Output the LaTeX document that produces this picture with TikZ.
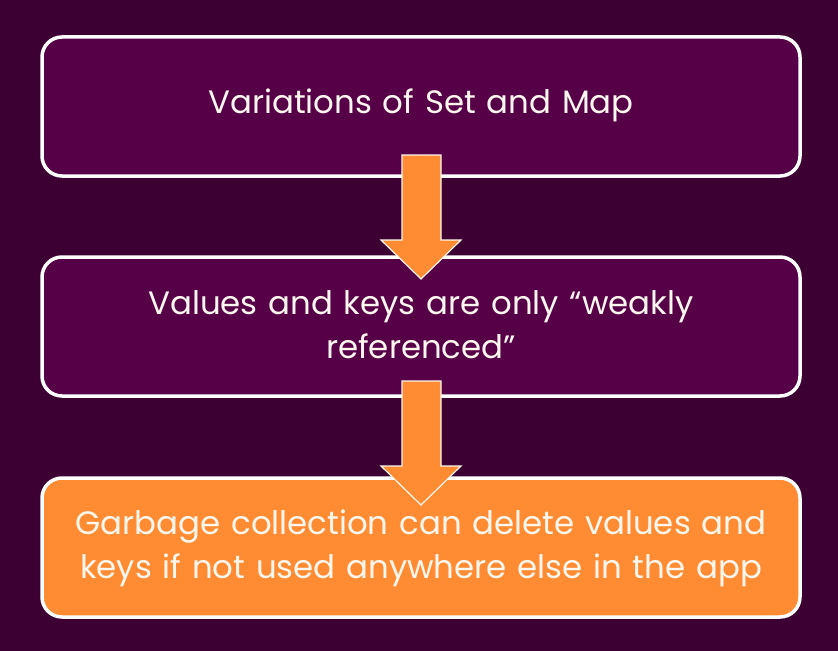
\documentclass[tikz,border=0pt]{standalone}
\usepackage{fontspec}
\setmainfont{Poppins}
\definecolor{bgc}{HTML}{3D0033}
\definecolor{boxc}{HTML}{560048}
\definecolor{orc}{HTML}{FF8C32}
\definecolor{txc}{HTML}{FFF7EE}
\tikzset{
  stepbox/.style={draw=white, line width=3.5bp, rounded corners=20bp, fill=boxc},
  hotbox/.style={stepbox, fill=orc},
  boxtext/.style={text=txc, font=\fontsize{32.5}{44}\selectfont, align=center, text width=760bp},
  blockarrow/.style={fill=orc, draw=txc, line width=1.2bp, line join=miter}
}
\begin{document}
\begin{tikzpicture}[x=1bp,y=-1bp]
\fill[bgc] (0,0) rectangle (838,651);
\useasboundingbox (0,0) rectangle (838,651);
\draw[stepbox] (42,37) rectangle (800,176);
\draw[stepbox] (42,257) rectangle (800,396);
\draw[hotbox] (42,478) rectangle (800,617);
\node[boxtext] (b1) at (421,105) {Variations of Set and Map};
\node[boxtext] (b2) at (421,325) {Values and keys are only “weakly\\referenced”};
\node[boxtext] (b3) at (421,548) {Garbage collection can delete values and\\keys if not used anywhere else in the app};
\draw[blockarrow] (402,155) -- (441,155) -- (441,240) -- (461,240) -- (421,279) -- (381,240) -- (402,240) -- cycle;
\draw[blockarrow] (402,381) -- (441,381) -- (441,466) -- (461,466) -- (421,505) -- (381,466) -- (402,466) -- cycle;
\end{tikzpicture}
\end{document}
